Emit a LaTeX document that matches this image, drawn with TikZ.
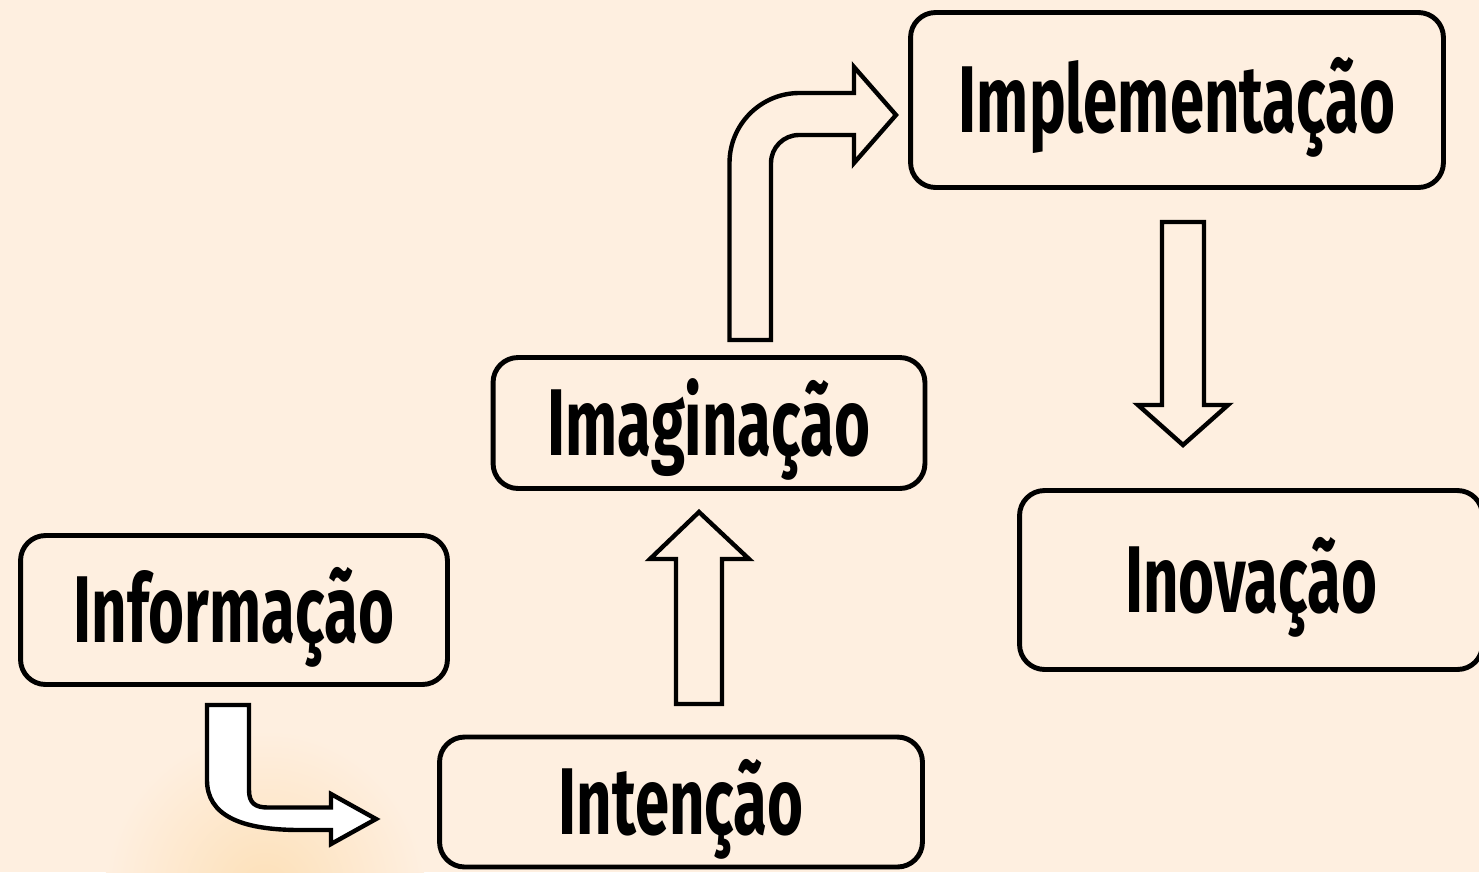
\documentclass[tikz,border=0pt]{standalone}
\usepackage{fontspec}
\setmainfont{Fira Sans}[FakeStretch=0.65]
\usepackage{tikz}
\usetikzlibrary{arrows}
\definecolor{bgpeach}{RGB}{254,239,224}
\definecolor{glow}{RGB}{253,224,184}

\begin{document}
\begin{tikzpicture}[x=0.02cm,y=-0.02cm,
  main/.style={draw,rounded corners=0.5cm,line width=2.8pt,inner sep=0pt,
    font=\fontsize{54}{60}\selectfont\bfseries,text height=37pt,text depth=0pt},
  blockarrow/.style={draw,line width=2.5pt,line join=miter}]
  % background
  \useasboundingbox (0,0) rectangle (1479,872);
  \clip (0,0) rectangle (1479,872);
  \fill[bgpeach] (0,0) rectangle (1479,872);
  \shade[inner color=glow,outer color=bgpeach] (265,890) circle[radius=3.2cm];
  % steps
  \node[main,minimum width=8.54cm,minimum height=2.98cm] (info) at (234,610) {Informação};
  \node[main,minimum width=9.66cm,minimum height=2.6cm] (inten) at (681,802) {Intenção};
  \node[main,minimum width=8.64cm,minimum height=2.62cm] (imag) at (709,423) {Imaginação};
  \node[main,minimum width=10.66cm,minimum height=3.5cm] (impl) at (1177,100) {Implementação};
  \node[main,minimum width=9.26cm,minimum height=3.58cm] (inov) at (1251,580) {Inovação};
  % arrows
  \draw[blockarrow,fill=white] (207,705) -- (249,705) -- (249,790)
    .. controls (249,803) and (255,807.5) .. (268,807.5) -- (331,807.5)
    -- (331,794) -- (376,819) -- (331,844) -- (331,830) -- (300,830)
    .. controls (240,830) and (207,815) .. (207,780) -- cycle;
  \draw[blockarrow] (676,704) -- (676,559) -- (650,559) -- (699,512)
    -- (749,559) -- (722,559) -- (722,704) -- cycle;
  \draw[blockarrow] (771,340) -- (729.5,340) [rounded corners=1.4cm] -- (729.5,93)
    [sharp corners] -- (854,93) -- (854,67) -- (896,115) -- (854,163) -- (854,135)
    [rounded corners=0.56cm] -- (771,135) [sharp corners] -- cycle;
  \draw[blockarrow] (1162,222) -- (1204,222) -- (1204,405) -- (1228,405)
    -- (1183,445) -- (1138,405) -- (1162,405) -- cycle;
\end{tikzpicture}
\end{document}
